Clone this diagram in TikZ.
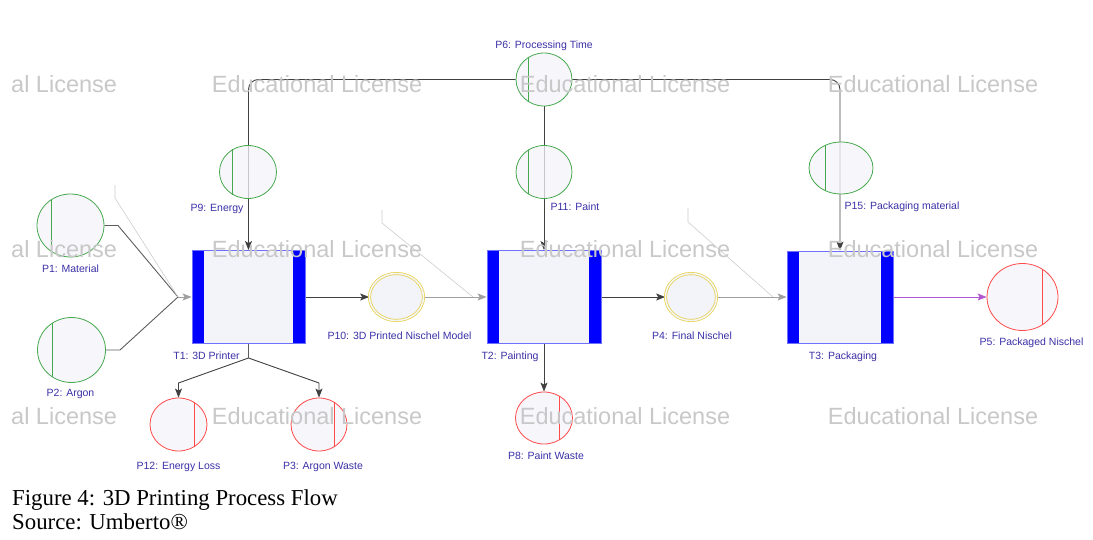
\documentclass[tikz,border=0pt]{standalone}
\usepackage{fontspec}
\setmainfont{Liberation Serif}
\newfontfamily\lblfont{Liberation Sans}
\usetikzlibrary{arrows.meta,positioning,calc,shapes.geometric,backgrounds}
\definecolor{PlaceFill}{HTML}{F3F3FA}
\definecolor{SourceGreen}{HTML}{46A84E}
\definecolor{SinkRed}{HTML}{FF4A4A}
\definecolor{StockYellow}{HTML}{E6D040}
\definecolor{TransBlue}{HTML}{0000FF}
\definecolor{TransEdge}{HTML}{7070FF}
\definecolor{LabelBlue}{HTML}{3A2FA6}
\definecolor{ArcDark}{HTML}{404040}
\definecolor{ArcGrey}{HTML}{A0A0A0}
\definecolor{ArcPurple}{HTML}{B355D0}
\definecolor{GhostGrey}{HTML}{CCCCCC}
\definecolor{MarkGrey}{HTML}{C8C8C8}

\begin{document}
\begin{tikzpicture}[x=1pt,y=-1pt]
  \tikzset{
    lbl/.style={font=\lblfont\fontsize{10.5}{12}\selectfont,text=LabelBlue,text opacity=1,inner sep=1pt},
    place/.style={ellipse,fill=PlaceFill,fill opacity=0.75,inner sep=0pt,line width=0.8pt},
    source/.style={place,draw=SourceGreen},
    sink/.style={place,draw=SinkRed},
    stock/.style={place,fill opacity=1,draw=StockYellow,double=PlaceFill,double distance=1.6pt,line width=0.7pt},
    trans/.style={rectangle,fill=PlaceFill,draw=TransEdge,line width=0.8pt,inner sep=0pt,
      path picture={\fill[TransBlue] (path picture bounding box.south west) rectangle ([xshift=12pt]path picture bounding box.north west);
        \fill[TransBlue] (path picture bounding box.south east) rectangle ([xshift=-12pt]path picture bounding box.north east);}},
    chordgreen/.style={draw=SourceGreen,line width=0.9pt},
    chordred/.style={draw=SinkRed,line width=0.9pt},
    arc/.style={draw=ArcDark,line width=0.9pt,-{Stealth[length=9pt,width=7pt,inset=2pt]}},
    arcgrey/.style={arc,draw=ArcGrey,-{Stealth[length=9pt,width=7pt,inset=2pt,color=ArcGrey]}},
    arcpurple/.style={arc,draw=ArcPurple,-{Stealth[length=9pt,width=7pt,inset=2pt,color=ArcPurple]}},
    feed/.style={draw=ArcDark!85,line width=0.9pt},
    ghost/.style={draw=GhostGrey,line width=0.6pt},
    wmark/.style={font=\lblfont\fontsize{23.5}{26}\selectfont,text=MarkGrey,inner sep=0pt},
    caption/.style={font=\fontsize{22.8}{24}\selectfont,inner sep=0pt}
  }
  \useasboundingbox (0,0) rectangle (1093,540);

  % transitions
  \node[trans,minimum width=113pt,minimum height=93pt,label={[lbl,xshift=-42pt,label distance=7pt]below:{T1: 3D Printer}}] (t1) at (248.5,297) {};
  \node[trans,minimum width=114pt,minimum height=93pt,label={[lbl,xshift=-34pt,label distance=7pt]below:{T2: Painting}}] (t2) at (544,297) {};
  \node[trans,minimum width=106pt,minimum height=92pt,label={[lbl,xshift=3pt,label distance=7pt]below:{T3: Packaging}}] (t3) at (840,297) {};

  % input places
  \node[source,minimum width=67pt,minimum height=63pt,label={[lbl,label distance=6pt]below:{P1: Material}}] (p1) at (70.5,225.5) {};
  \node[source,minimum width=68pt,minimum height=65pt,label={[lbl,xshift=-1pt,label distance=5pt]below:{P2: Argon}}] (p2) at (71.5,350) {};
  \node[source,minimum width=57pt,minimum height=53pt,label={[lbl,xshift=-31pt,label distance=4pt]below:{P9: Energy}}] (p9) at (248,172) {};
  \node[source,minimum width=56pt,minimum height=53pt,label={[lbl,label distance=1pt]above:{P6: Processing Time}}] (p6) at (544,79.5) {};
  \node[source,minimum width=56pt,minimum height=53pt,label={[lbl,xshift=31pt,label distance=3pt]below:{P11: Paint}}] (p11) at (544,172) {};
  \node[source,minimum width=64pt,minimum height=52pt,label={[lbl,xshift=61pt,label distance=6pt]below:{P15: Packaging material}}] (p15) at (841,168) {};

  % intermediate places
  \node[stock,minimum width=54pt,minimum height=47pt,label={[lbl,xshift=3pt,label distance=10pt]below:{P10: 3D Printed Nischel Model}}] (p10) at (396.5,297) {};
  \node[stock,minimum width=51pt,minimum height=47pt,label={[lbl,xshift=1pt,label distance=10pt]below:{P4: Final Nischel}}] (p4) at (691,297) {};

  % output places
  \node[sink,minimum width=57pt,minimum height=53pt,label={[lbl,label distance=10pt]below:{P12: Energy Loss}}] (p12) at (178.5,424.5) {};
  \node[sink,minimum width=56pt,minimum height=53pt,label={[lbl,xshift=4pt,label distance=10pt]below:{P3: Argon Waste}}] (p3) at (319,424.5) {};
  \node[sink,minimum width=57pt,minimum height=52pt,label={[lbl,xshift=2pt,label distance=6pt]below:{P8: Paint Waste}}] (p8) at (544,418) {};
  \node[sink,minimum width=71pt,minimum height=67pt,label={[lbl,xshift=9pt,label distance=6pt]below:{P5: Packaged Nischel}}] (p5) at (1022.5,297) {};

  % chords of the source and sink places
  \foreach \p in {p1,p2,p9,p6,p11,p15}
    \draw[chordgreen] (\p.125) -- (\p.235);
  \foreach \p in {p12,p3,p8,p5}
    \draw[chordred] (\p.55) -- (\p.-55);

  % bends and junctions
  \coordinate (k1) at (118,225.5);
  \coordinate (k2) at (120,350);
  \coordinate (j1) at (178,297);
  \coordinate (tj) at (248.5,358);
  \coordinate (b12) at (178.5,383);
  \coordinate (b3) at (319,383);
  \coordinate (g1a) at (115,185);
  \coordinate (g1b) at (115,198);
  \coordinate (g2a) at (382,210);
  \coordinate (g2b) at (382,223);
  \coordinate (g2c) at (473,297);
  \coordinate (g3a) at (688,208);
  \coordinate (g3b) at (688,222);
  \coordinate (g3c) at (773,297);

  \begin{pgfonlayer}{background}
    \draw[arc,rounded corners=10pt] (p6.west) -| (t1.north);
    \draw[arc,rounded corners=10pt] (p6.east) -| (t3.north);
    \draw[arc] (p6.south) -- (t2.north);
    \draw[feed] (p1.east) -- (k1) -- (j1);
    \draw[feed] (p2.east) -- (k2) -- (j1);
    \draw[arcgrey] (j1) -- (t1.west);
    \draw[arc] (t1.east) -- (p10.west);
    \draw[arcgrey] (p10.east) -- (t2.west);
    \draw[arc] (t2.east) -- (p4.west);
    \draw[arcgrey] (p4.east) -- (t3.west);
    \draw[arcpurple] (t3.east) -- (p5.west);
    \draw[arc] (t2.south) -- (p8.north);
    \draw[feed] (t1.south) -- (tj);
    \draw[arc] (tj) -- (b12) -- (p12.north);
    \draw[arc] (tj) -- (b3) -- (p3.north);
    \draw[ghost] (g1a) -- (g1b) -- (j1);
    \draw[ghost] (g2a) -- (g2b) -- (g2c);
    \draw[ghost] (g3a) -- (g3b) -- (g3c);
  \end{pgfonlayer}

  % licence watermark
  \foreach \wy in {84,249,416} {
    \node[wmark,anchor=west] (wm-0-\wy) at (11,\wy) {al License};
    \foreach \wx in {317,625,933}
      \node[wmark] (wm-\wx-\wy) at (\wx,\wy) {Educational License};
  }

  % caption
  \node[caption,anchor=base west] (cap1) at (12,505) {Figure 4: 3D Printing Process Flow};
  \node[caption,anchor=base west] (cap2) at (12,529) {Source: Umberto®};
\end{tikzpicture}
\end{document}
